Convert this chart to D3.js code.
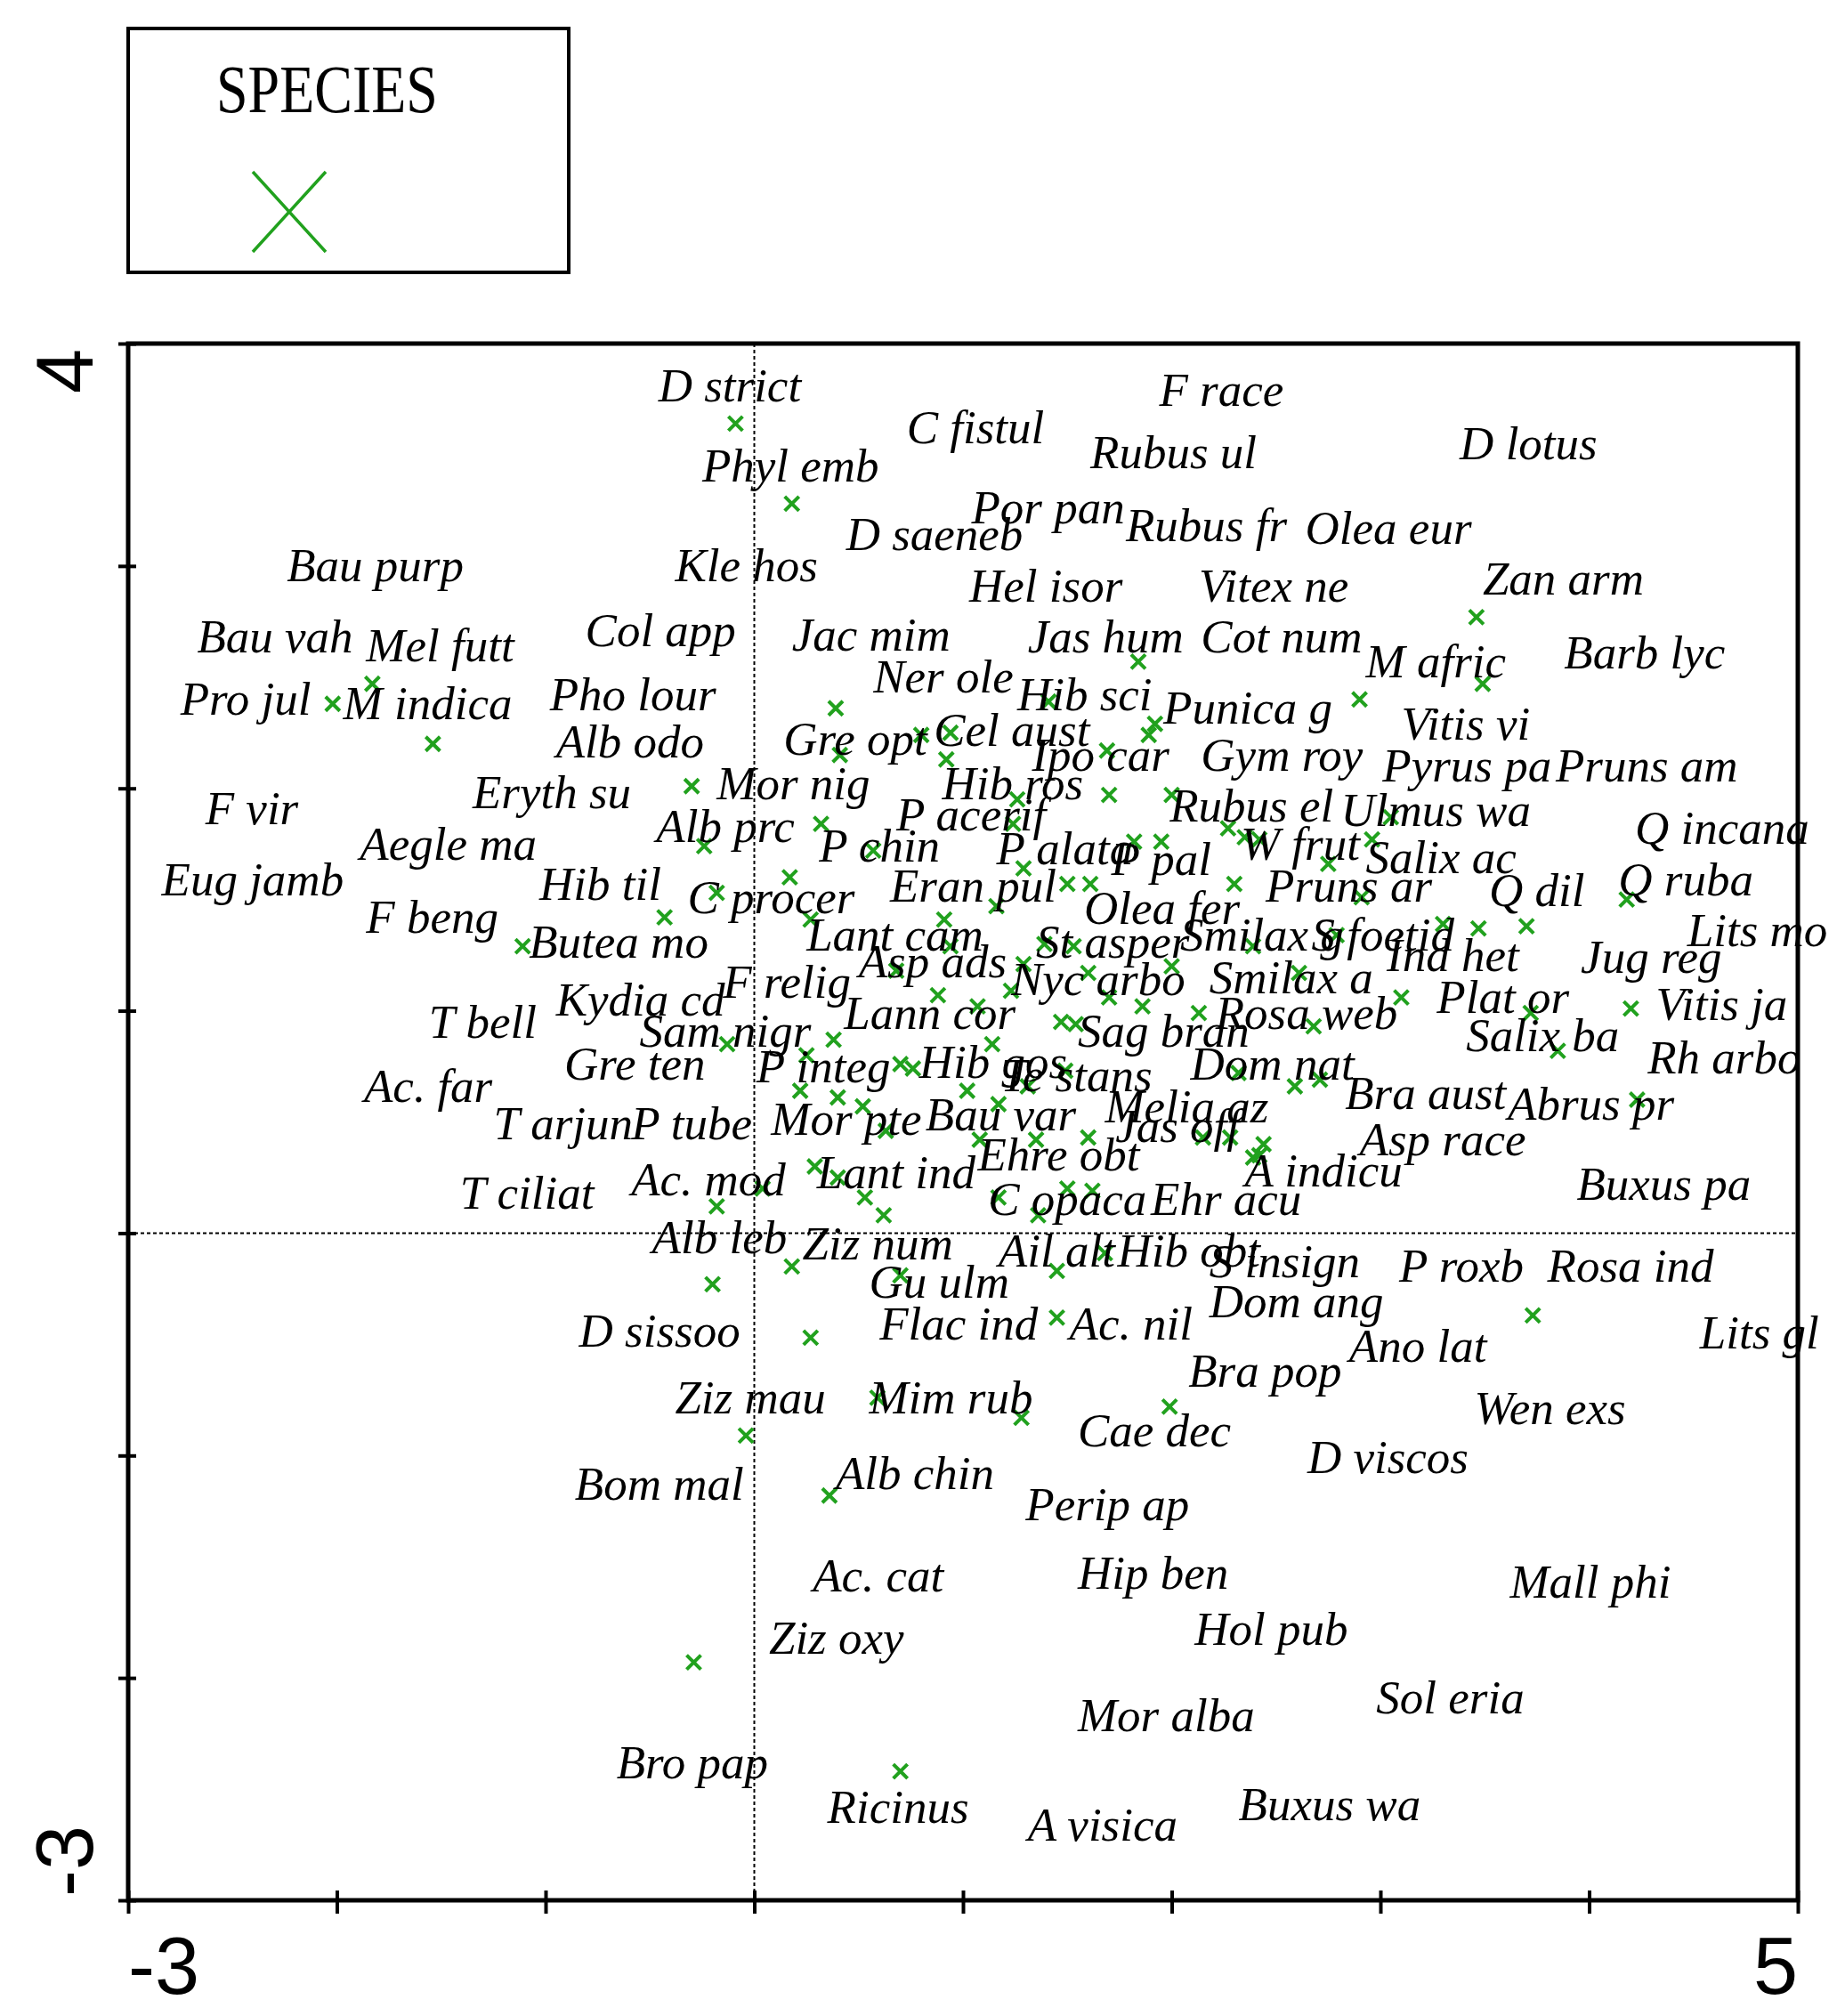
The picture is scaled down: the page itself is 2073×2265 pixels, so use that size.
<!DOCTYPE html>
<html>
<head>
<meta charset="utf-8">
<script src="https://cdn.jsdelivr.net/npm/d3@7"></script>
<style>
  body { margin: 0; background: #fff; }
  svg { display: block; }
</style>
</head>
<body>
<svg id="ordination-chart" width="2073" height="2265"></svg>
<script>
// species scores, axis 1 (x) and axis 2 (y)
const pointX = [
  -0.09, 0.18, -1.83, -2.02, -1.54, 3.46, 3.49, 1.84, 2.90, 0.39,
  1.41, 1.92, 0.80, 0.94, 0.41, 0.92, 1.69, 1.89, -0.30, 1.26,
  1.70, 2.00, 2.27, 2.35, 1.24, 0.32, -0.24, 0.57, 1.82, 1.95,
  1.50, 1.61, 1.29, 2.30, 0.17, -0.18, -0.43, -1.11, 1.16, 0.27,
  0.91, 0.94, 1.39, 1.53, 2.39, 0.68, 1.29, 1.23, 1.60, 2.00,
  0.88, 1.07, 1.70, 1.86, 1.47, 1.54, 2.13, -0.13, 0.38, 1.14,
  0.25, 0.70, 0.76, 1.31, 1.49, 2.32, 0.22, 0.40, 0.52, 1.02,
  1.17, 0.63, 1.08, 1.35, 1.60, 2.28, 2.39, 0.29, 0.40, 0.04,
  -0.18, 0.53, 0.62, 1.17, 1.50, 1.62, 1.36, 0.18, -0.20, 0.70,
  1.45, 1.68, 0.27, 1.45, 0.59, 1.28, -0.04, 1.99, 0.36, -0.29,
  0.70, 3.05, 2.96, 2.75, 2.91, 4.18, 2.42, 3.30, 3.47, 3.70,
  2.79, 2.61, 3.10, 2.68, 3.72, 4.20, 3.85, 2.59, 2.71, 4.23,
  2.42, 3.73, 2.15, 2.44
];
const pointY = [
  3.64, 3.28, 2.47, 2.38, 2.20, 2.77, 2.47, 2.57, 2.40, 2.36,
  2.39, 2.29, 2.24, 2.25, 2.15, 2.13, 2.17, 2.24, 2.01, 1.95,
  1.97, 1.97, 1.82, 1.78, 1.84, 1.84, 1.74, 1.72, 1.76, 1.76,
  1.57, 1.57, 1.64, 1.57, 1.60, 1.53, 1.42, 1.29, 1.47, 1.41,
  1.41, 1.29, 1.30, 1.29, 1.29, 1.18, 1.21, 1.09, 1.17, 1.20,
  1.07, 1.02, 1.06, 1.02, 0.95, 0.94, 0.99, 0.85, 0.87, 0.85,
  0.80, 0.76, 0.74, 0.66, 0.73, 0.72, 0.64, 0.61, 0.57, 0.64,
  0.58, 0.46, 0.42, 0.42, 0.43, 0.43, 0.34, 0.30, 0.25, 0.20,
  0.12, 0.16, 0.08, 0.16, 0.20, 0.19, 0.08, -0.15, -0.23, -0.19,
  -0.17, -0.09, -0.47, -0.38, -0.74, -0.83, -0.91, -0.78, -1.18, -1.93,
  -2.42, 1.87, 1.77, 1.66, 1.51, 1.50, 1.77, 1.39, 1.37, 1.38,
  1.34, 1.17, 1.06, 0.93, 0.99, 1.01, 0.82, 0.66, 0.69, 0.60,
  0.35, -0.37, 0.43, 0.40
];

// species labels and where they sit (left edge, middle of the text)
const labelNames = [
  'D strict', 'F race', 'C fistul', 'Rubus ul', 'D lotus', 'Phyl emb', 'Por pan', 'Rubus fr', 'Olea eur', 'D saeneb',
  'Bau purp', 'Kle hos', 'Hel isor', 'Vitex ne', 'Zan arm', 'Bau vah', 'Mel futt', 'Col app', 'Jac mim', 'Jas hum',
  'Cot num', 'M afric', 'Barb lyc', 'Ner ole', 'Hib sci', 'Punica g', 'Pro jul', 'M indica', 'Pho lour', 'Vitis vi',
  'Alb odo', 'Gre opt', 'Cel aust', 'Ipo car', 'Gym roy', 'Pyrus pa', 'Pruns am', 'F vir', 'Eryth su', 'Mor nig',
  'Hib ros', 'Rubus el', 'Ulmus wa', 'Q incana', 'Aegle ma', 'Alb prc', 'P acerif', 'P chin', 'P alata', 'P pal',
  'W frut', 'Salix ac', 'Eug jamb', 'Hib til', 'C procer', 'Eran pul', 'Olea fer', 'Pruns ar', 'Q dil', 'Q ruba',
  'F beng', 'Butea mo', 'Lant cam', 'St asper', 'Smilax g', 'S foetid', 'Ind het', 'Jug reg', 'Lits mo', 'Asp ads',
  'F relig', 'Nyc arbo', 'Smilax a', 'Kydia cd', 'Plat or', 'Vitis ja', 'T bell', 'Sam nigr', 'Lann cor', 'Sag bran',
  'Rosa web', 'Salix ba', 'Rh arbo', 'Gre ten', 'P integ', 'Hib gos', 'Te stans', 'Dom nat', 'Ac. far', 'Bra aust',
  'Abrus pr', 'T arjun', 'P tube', 'Mor pte', 'Bau var', 'Melia az', 'Jas off', 'Ehre obt', 'Asp race', 'A indicu',
  'Ac. mod', 'Lant ind', 'T ciliat', 'C opaca', 'Ehr acu', 'Buxus pa', 'Alb leb', 'Ziz num', 'Ail alt', 'Hib obt',
  'S insign', 'P roxb', 'Rosa ind', 'Gu ulm', 'Dom ang', 'D sissoo', 'Flac ind', 'Ac. nil', 'Lits gl', 'Ano lat',
  'Bra pop', 'Ziz mau', 'Mim rub', 'Wen exs', 'Cae dec', 'D viscos', 'Bom mal', 'Alb chin', 'Perip ap', 'Ac. cat',
  'Hip ben', 'Mall phi', 'Hol pub', 'Ziz oxy', 'Sol eria', 'Mor alba', 'Bro pap', 'Ricinus', 'Buxus wa', 'A visica'
];
const labelX = [
  -0.46, 1.94, 0.73, 1.61, 3.38, -0.25, 1.04, 1.78, 2.64, 0.44,
  -2.24, -0.38, 1.03, 2.13, 3.49, -2.67, -1.86, -0.81, 0.18, 1.31,
  2.14, 2.93, 3.88, 0.57, 1.26, 1.96, -2.75, -1.97, -0.98, 3.10,
  -0.95, 0.14, 0.86, 1.33, 2.14, 3.01, 3.84, -2.63, -1.35, -0.18,
  0.90, 1.99, 2.81, 4.22, -1.89, -0.47, 0.68, 0.31, 1.16, 1.71,
  2.33, 2.93, -2.84, -1.03, -0.32, 0.65, 1.58, 2.45, 3.52, 4.14,
  -1.86, -1.08, 0.25, 1.35, 2.04, 2.67, 3.03, 3.96, 4.47, 0.50,
  -0.15, 1.23, 2.18, -0.95, 3.27, 4.32, -1.56, -0.55, 0.43, 1.55,
  2.21, 3.41, 4.28, -0.91, 0.01, 0.79, 1.18, 2.09, -1.87, 2.83,
  3.61, -1.25, -0.59, 0.08, 0.82, 1.68, 1.73, 1.07, 2.90, 2.35,
  -0.59, 0.30, -1.41, 1.12, 1.90, 3.94, -0.49, 0.23, 1.17, 1.74,
  2.18, 3.09, 3.80, 0.55, 2.18, -0.84, 0.60, 1.51, 4.53, 2.85,
  2.08, -0.38, 0.55, 3.45, 1.55, 2.65, -0.86, 0.39, 1.30, 0.28,
  1.55, 3.62, 2.11, 0.07, 2.98, 1.55, -0.66, 0.35, 2.32, 1.31
];
const labelY = [
  3.81, 3.79, 3.62, 3.51, 3.55, 3.45, 3.26, 3.18, 3.17, 3.14,
  3.00, 3.00, 2.91, 2.91, 2.94, 2.68, 2.64, 2.71, 2.69, 2.68,
  2.68, 2.57, 2.61, 2.50, 2.42, 2.36, 2.40, 2.38, 2.42, 2.29,
  2.21, 2.22, 2.26, 2.15, 2.15, 2.10, 2.10, 1.91, 1.98, 2.02,
  2.02, 1.92, 1.90, 1.82, 1.75, 1.83, 1.88, 1.74, 1.73, 1.68,
  1.75, 1.69, 1.59, 1.57, 1.51, 1.56, 1.46, 1.56, 1.54, 1.59,
  1.42, 1.31, 1.34, 1.31, 1.34, 1.34, 1.25, 1.24, 1.36, 1.22,
  1.13, 1.14, 1.15, 1.05, 1.06, 1.03, 0.95, 0.91, 0.99, 0.91,
  0.99, 0.89, 0.79, 0.76, 0.75, 0.77, 0.71, 0.76, 0.66, 0.63,
  0.58, 0.49, 0.49, 0.51, 0.53, 0.57, 0.48, 0.35, 0.42, 0.28,
  0.24, 0.27, 0.18, 0.15, 0.15, 0.22, -0.02, -0.05, -0.08, -0.08,
  -0.13, -0.15, -0.15, -0.22, -0.31, -0.44, -0.41, -0.41, -0.45, -0.51,
  -0.62, -0.74, -0.74, -0.79, -0.89, -1.01, -1.13, -1.08, -1.22, -1.54,
  -1.53, -1.57, -1.78, -1.82, -2.09, -2.17, -2.38, -2.58, -2.57, -2.66
];

const xDomain = [-3, 5];
const yDomain = [-3, 4];
const xTickValues = [-3, -2, -1, 0, 1, 2, 3, 4, 5];
const yTickValues = [-3, -2, -1, 0, 1, 2, 3, 4];
const xTickLabels = [[-3, '-3'], [5, '5']];
const yTickLabels = [[-3, '-3'], [4, '4']];
const legendTitle = 'SPECIES';

function drawOrdination(svg_id) {
    const frame = { left: 144, right: 2020, top: 386, bottom: 2135 };
    const green = '#21a11e';
    const labelFont = "'Liberation Serif', 'Times New Roman', serif";
    const tickFont = "'Liberation Sans', Arial, sans-serif";

    const svg = d3.select(svg_id);

    const xScale = d3.scaleLinear().domain(xDomain).range([frame.left, frame.right]);
    const yScale = d3.scaleLinear().domain(yDomain).range([frame.bottom, frame.top]);

    // legend box
    const legend = svg.append('g');
    legend.append('rect')
        .attr('x', 144).attr('y', 32)
        .attr('width', 495).attr('height', 274)
        .attr('fill', 'none')
        .attr('stroke', 'black')
        .attr('stroke-width', 4);
    legend.append('text')
        .attr('transform', 'translate(243,126) scale(1,1.18)')
        .style('font-family', labelFont)
        .style('font-size', '64px')
        .text(legendTitle);
    legend.append('path')
        .attr('d', 'M284,193 L366,283 M284,283 L366,193')
        .attr('stroke', green)
        .attr('stroke-width', 3.5)
        .attr('fill', 'none');

    // dotted zero lines
    svg.append('line')
        .attr('x1', xScale(0)).attr('x2', xScale(0))
        .attr('y1', frame.top).attr('y2', frame.bottom)
        .attr('stroke', 'black').attr('stroke-width', 2)
        .attr('stroke-dasharray', '4,3');
    svg.append('line')
        .attr('x1', frame.left).attr('x2', frame.right)
        .attr('y1', yScale(0)).attr('y2', yScale(0))
        .attr('stroke', 'black').attr('stroke-width', 2)
        .attr('stroke-dasharray', '4,3');

    // species markers
    const s = 8;
    svg.append('g').selectAll('path')
        .data(d3.range(pointX.length))
        .enter()
        .append('path')
        .attr('transform', i => `translate(${xScale(pointX[i])},${yScale(pointY[i])})`)
        .attr('d', `M${-s},${-s} L${s},${s} M${-s},${s} L${s},${-s}`)
        .attr('stroke', green)
        .attr('stroke-width', 4)
        .attr('fill', 'none');

    // species labels
    svg.append('g').selectAll('text')
        .data(d3.range(labelNames.length))
        .enter()
        .append('text')
        .attr('x', i => xScale(labelX[i]))
        .attr('y', i => yScale(labelY[i]))
        .attr('dy', '0.33em')
        .style('font-family', labelFont)
        .style('font-style', 'italic')
        .style('font-size', '53px')
        .style('fill', 'black')
        .text(i => labelNames[i]);

    // frame
    svg.append('rect')
        .attr('x', frame.left).attr('y', frame.top)
        .attr('width', frame.right - frame.left)
        .attr('height', frame.bottom - frame.top)
        .attr('fill', 'none')
        .attr('stroke', 'black')
        .attr('stroke-width', 5);

    // tick marks crossing the frame, labels only at the ends
    svg.append('g')
        .attr('transform', `translate(0,${frame.bottom})`)
        .call(d3.axisBottom(xScale).tickValues(xTickValues).tickFormat(''))
        .call(g => g.select('.domain').remove())
        .call(g => g.selectAll('.tick line')
            .attr('y1', -11).attr('y2', 15)
            .attr('stroke', 'black').attr('stroke-width', 4));

    svg.append('g')
        .attr('transform', `translate(${frame.left},0)`)
        .call(d3.axisLeft(yScale).tickValues(yTickValues).tickFormat(''))
        .call(g => g.select('.domain').remove())
        .call(g => g.selectAll('.tick line')
            .attr('x1', 9).attr('x2', -11)
            .attr('stroke', 'black').attr('stroke-width', 4));

    svg.append('g').selectAll('text')
        .data(xTickLabels)
        .enter()
        .append('text')
        .attr('x', d => xScale(d[0]))
        .attr('y', 2240)
        .style('text-anchor', d => d[0] === xDomain[0] ? 'start' : 'end')
        .style('font-family', tickFont)
        .style('font-size', '90px')
        .text(d => d[1]);

    svg.append('g').selectAll('text')
        .data(yTickLabels)
        .enter()
        .append('text')
        .attr('transform', d => `translate(104,${yScale(d[0]) + (d[0] === yDomain[0] ? -4 : 6)}) rotate(-90)`)
        .style('text-anchor', d => d[0] === yDomain[0] ? 'start' : 'end')
        .style('font-family', tickFont)
        .style('font-size', '90px')
        .text(d => d[1]);
}

drawOrdination('#ordination-chart');
</script>
</body>
</html>
